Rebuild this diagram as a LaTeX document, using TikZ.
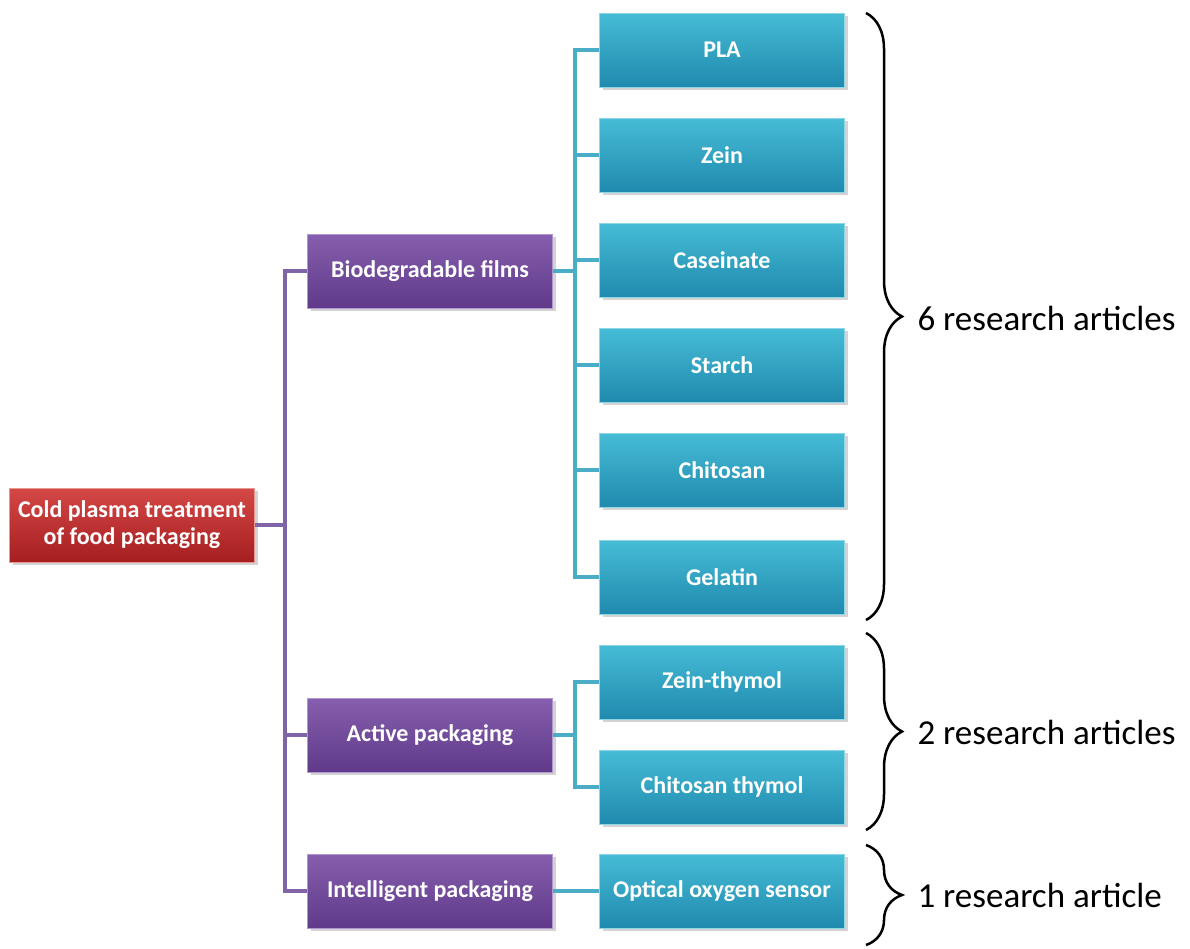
\documentclass[tikz,border=0pt]{standalone}
\usepackage{fontspec}
\setmainfont{Carlito}
\usetikzlibrary{shadows,decorations.pathreplacing}

\definecolor{redtop}{RGB}{212,72,70}
\definecolor{redbot}{RGB}{166,30,32}
\definecolor{redrim}{RGB}{232,150,146}
\definecolor{purtop}{RGB}{134,94,174}
\definecolor{purbot}{RGB}{96,58,138}
\definecolor{purrim}{RGB}{178,150,208}
\definecolor{cyantop}{RGB}{70,188,214}
\definecolor{cyanbot}{RGB}{32,138,174}
\definecolor{cyanrim}{RGB}{140,214,232}
\definecolor{purline}{RGB}{128,100,168}
\definecolor{cyanline}{RGB}{75,172,198}

\begin{document}
\begin{tikzpicture}[
    x=1pt, y=-1pt,
    box/.style={rectangle, minimum width=245pt, minimum height=74pt,
        inner sep=0pt, align=center, text=white, line width=1pt,
        font=\fontsize{24}{27}\selectfont\bfseries,
        drop shadow={shadow xshift=3pt, shadow yshift=-3pt, opacity=0.35}},
    rootbox/.style={box, top color=redtop, bottom color=redbot, draw=redrim},
    groupbox/.style={box, top color=purtop, bottom color=purbot, draw=purrim},
    itembox/.style={box, top color=cyantop, bottom color=cyanbot, draw=cyanrim},
    pline/.style={draw=purline, line width=4pt},
    cline/.style={draw=cyanline, line width=4pt},
    bracket/.style={draw=black, line width=2.5pt,
        decorate, decoration={brace, amplitude=36pt}},
    count/.style={anchor=west, font=\fontsize{35}{40}\selectfont}
    ]

    \useasboundingbox (0,0) rectangle (1190,948);

    % nodes
    \node[rootbox] (root) at (132,525) {Cold plasma treatment\\of food packaging};

    \node[groupbox] (bio)   at (430,271) {Biodegradable films};
    \node[groupbox] (act)   at (430,735) {Active packaging};
    \node[groupbox] (intel) at (430,891) {Intelligent packaging};

    \node[itembox] (pla)    at (722,50)  {PLA};
    \node[itembox] (zein)   at (722,155) {Zein};
    \node[itembox] (cas)    at (722,260) {Caseinate};
    \node[itembox] (starch) at (722,365) {Starch};
    \node[itembox] (chit)   at (722,470) {Chitosan};
    \node[itembox] (gel)    at (722,577) {Gelatin};
    \node[itembox] (zthy)   at (722,682) {Zein-thymol};
    \node[itembox] (cthy)   at (722,787) {Chitosan thymol};
    \node[itembox] (oxy)    at (722,891) {Optical oxygen sensor};

    % junctions
    \coordinate (ptrunk) at (285,525);
    \coordinate (btrunk) at (575,271);
    \coordinate (atrunk) at (575,735);

    % edges
    \draw[pline] (root) -- (ptrunk);
    \foreach \g in {bio,act,intel}
        \draw[pline] (\g.west) -| (ptrunk);

    \draw[cline] (bio) -- (btrunk);
    \foreach \i in {pla,zein,cas,starch,chit,gel}
        \draw[cline] (\i.west) -| (btrunk);

    \draw[cline] (act) -- (atrunk);
    \draw[cline] (zthy.west) -| (atrunk);
    \draw[cline] (cthy.west) -| (atrunk);

    \draw[cline] (intel) -- (oxy);

    % braces
    \coordinate (b1s) at (866,13);
    \coordinate (b1e) at (866,620);
    \coordinate (b2s) at (866,633);
    \coordinate (b2e) at (866,830);
    \coordinate (b3s) at (866,845);
    \coordinate (b3e) at (866,945);

    \draw[bracket] (b1s) -- (b1e);
    \draw[bracket] (b2s) -- (b2e);
    \draw[bracket] (b3s) -- (b3e);

    \node[count] (six) at (914,318) {6 research articles};
    \node[count] (two) at (914,732) {2 research articles};
    \node[count] (one) at (914,895) {1 research article};

\end{tikzpicture}
\end{document}
